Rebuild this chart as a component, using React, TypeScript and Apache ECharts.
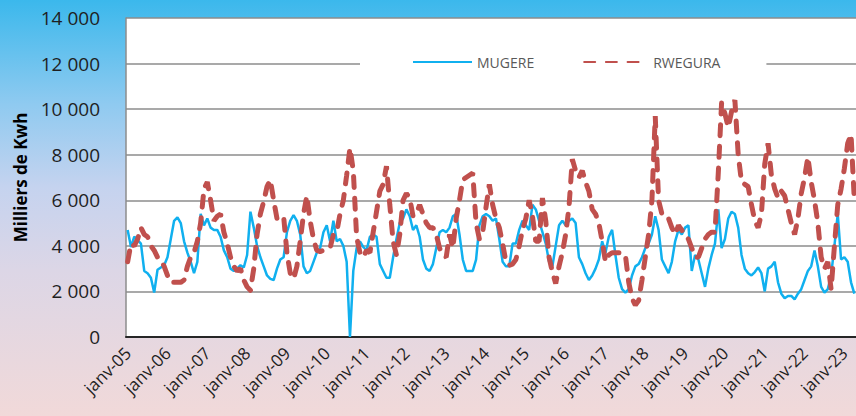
import React, { useEffect, useRef } from "react";
import * as echarts from "echarts";

const MONTHS = ["janv", "févr", "mars", "avr", "mai", "juin", "juil", "août", "sept", "oct", "nov", "déc"];
const START_YEAR = 5;

const MUGERE = [
  4700, 3950, 4400, 4250, 4100, 2900, 2800, 2600, 1950, 2950, 3050, 3150,
  3500, 4300, 5100, 5250, 5000, 4200, 3700, 3300, 2800, 3300, 5400, 4900,
  5200, 4800, 4700, 4700, 4400, 3800, 3500, 3000, 2900, 3000, 3150, 3050,
  3600, 5500, 4800, 4000, 3500, 3100, 2700, 2550, 2500, 3000, 3400, 3500,
  4600, 5100, 5350, 5100, 4500, 3100, 2800, 2900, 3300, 3700, 3900, 4600,
  4900, 4200, 5100, 4200, 4300, 4000, 3300, 0, 2900, 3900, 4200, 3950,
  3800, 4400, 4500, 4400, 3200, 2900, 2600, 2600, 3500, 4300, 5000, 5200,
  5600, 5300, 4700, 4900, 4400, 3400, 3000, 2900, 3200, 3900, 4600, 4700,
  4600, 4800, 5300, 5400, 4500, 3400, 2900, 2900, 2900, 3400, 4900, 5300,
  5400, 5300, 5100, 5200, 4300, 3300, 3100, 3100, 4100, 4100, 4700, 5100,
  4900, 4700, 5800, 5600, 5100, 4600, 4100, 3300, 3100, 4000, 4900, 5100,
  4900, 5100, 5200, 5000, 3500, 3200, 2800, 2500, 2700, 3000, 3400, 4200,
  3700, 4400, 4700, 3600, 2600, 2100, 1950, 2100, 2700, 3100, 3200, 3500,
  3900, 4100, 4500, 5300, 4700, 3400, 3100, 2800, 3300, 4200, 4700, 4500,
  4800, 4900, 2900, 3600, 3400, 2800, 2200, 3000, 3600, 4100, 5600, 3900,
  4300, 5200, 5500, 5400, 4800, 3600, 3000, 2800, 2700, 2850, 3050, 2800,
  2000, 3000, 3100, 3300, 2400, 1900, 1700, 1800, 1800, 1650, 1900, 2100,
  2500, 2900, 3100, 3800, 3100, 2200, 1950, 2100, 2700, 4000, 5400, 3400,
  3500, 3300, 2400, 1900,
];

const RWEGURA = [
  3300, 4100, 4000, 4300, 4800, 4500, 4400, 4000, 3800, 3500, 3400, 3100,
  2700, 2400, 2400, 2400, 2400, 2500, 3100, 3500, 3700, 4200, 5000, 6500,
  6800, 6000, 5100, 5300, 5400, 4600, 4100, 3500, 3100, 2900, 3000, 2500,
  2200, 2050, 3000, 4500, 5400, 5950, 6600, 6900, 6000, 5200, 5200, 5300,
  3700, 2800, 2550, 3100, 4200, 5400, 6200, 5100, 4300, 3800, 3750, 3800,
  3850, 3900, 4500, 4600, 5400, 6000, 7100, 8300, 7300, 4400, 3700, 3500,
  3800, 3700, 4600, 5500, 6400, 6700, 7500, 5800, 4200, 3600, 4500, 6000,
  6300, 6100, 5300, 5400, 5800, 5400, 5000, 4800, 4800, 4500, 3900, 3600,
  3500, 4500, 3900, 5200, 6000, 6900, 7000, 7100, 7200, 5000, 4300, 4600,
  5700, 6700, 5800, 5200, 4800, 4100, 3300, 3150, 3200, 3400, 4000, 4700,
  5200, 6000, 5300, 4200, 4200, 6100, 5100, 3500, 2850, 2350, 3100, 3700,
  4500, 5700, 7800, 7300, 7000, 7300, 6800, 6400, 5600, 5400, 5000, 4200,
  3300, 3600, 3700, 3700, 3700, 3700, 3600, 2400, 1700, 1400, 1600, 2500,
  3500, 4500, 6000, 9700, 6000, 5400, 5400, 5200, 4800, 4500, 4900, 4700,
  4400, 4300, 3900, 3500, 3500, 3900, 4300, 4500, 4600, 4600, 7200, 10300,
  9800, 9200, 9900, 10400, 8000, 6800, 6700, 6600, 5800, 5100, 4800, 5400,
  7600, 8500, 7100, 6500, 6100, 6400, 6200, 5600, 5000, 4500, 5200, 6300,
  7000, 7900, 6800, 6000, 5000, 3500, 3000, 3300, 2100, 4000, 5800, 6500,
  7400, 8500, 8900, 6000,
];

const CATEGORIES = MUGERE.map(
  (_, i) => `${MONTHS[i % 12]}-${String(START_YEAR + Math.floor(i / 12)).padStart(2, "0")}`
);

const Y_MIN = 0;
const Y_MAX = 14000;
const Y_STEP = 2000;

const FONT = "'Open Sans', 'Noto Sans', sans-serif";

function fmt(v: number): string {
  if (v < 1000) return String(v);
  const th = Math.floor(v / 1000);
  const rest = String(v % 1000).padStart(3, "0");
  return `${th} ${rest}`;
}

export default function App() {
  const ref = useRef<HTMLDivElement>(null);
  useEffect(() => {
    if (!ref.current) return;
    const chart = echarts.init(ref.current, undefined, { renderer: "svg" });
    chart.setOption({
      animation: false,
      backgroundColor: "transparent",
      grid: {
        left: 126,
        top: 18,
        width: 730,
        height: 319,
        show: true,
        backgroundColor: "#ffffff",
        borderWidth: 0,
        containLabel: false,
      },
      legend: {
        data: ["MUGERE", { name: "RWEGURA", textStyle: { padding: [0, 0, 0, 5] } }],
        left: 360,
        top: 52,
        padding: [3, 46, 3, 52],
        itemGap: 49,
        itemWidth: 59,
        itemHeight: 14,
        backgroundColor: "#ffffff",
        itemStyle: { opacity: 0 },
        textStyle: { fontFamily: FONT, fontSize: 14, color: "#595959" },
      },
      xAxis: {
        type: "category",
        data: CATEGORIES,
        boundaryGap: true,
        axisLine: { show: true, lineStyle: { color: "#262626", width: 2 } },
        axisTick: { show: false },
        axisLabel: {
          interval: 11,
          rotate: 45,
          margin: 13,
          fontFamily: FONT,
          fontSize: 17,
          color: "#1f1f1f",
        },
        splitLine: { show: false },
      },
      yAxis: {
        type: "value",
        min: Y_MIN,
        max: Y_MAX,
        interval: Y_STEP,
        name: "Milliers de Kwh",
        nameLocation: "middle",
        nameGap: 97,
        nameRotate: 90,
        nameTextStyle: { fontFamily: FONT, fontSize: 17, fontWeight: "bold", color: "#000000" },
        axisLine: { show: true, lineStyle: { color: "#8c8c8c", width: 1.5 } },
        axisTick: { show: false },
        axisLabel: {
          margin: 26,
          fontFamily: FONT,
          fontSize: 19,
          color: "#1f1f1f",
          formatter: (v: number) => fmt(v),
        },
        splitLine: { show: true, lineStyle: { color: "#8c8c8c", width: 1.5 } },
      },
      series: [
        {
          name: "MUGERE",
          type: "line",
          data: MUGERE,
          symbol: "none",
          showSymbol: false,
          lineStyle: { color: "#10b0ef", width: 2.5 },
          itemStyle: { color: "#10b0ef" },
          z: 2,
        },
        {
          name: "RWEGURA",
          type: "line",
          data: RWEGURA,
          symbol: "none",
          showSymbol: false,
          lineStyle: { color: "#c0504d", width: 5, type: [11, 10.7], cap: "round" },
          itemStyle: { color: "#c0504d" },
          z: 3,
        },
      ],
    });
    return () => chart.dispose();
  }, []);
  return (
    <div
      ref={ref}
      style={{
        position: "fixed",
        left: 0,
        top: 0,
        width: 856,
        height: 416,
        background:
          "linear-gradient(to bottom, #3bb8ec 0%, #8fcaf0 25%, #c5d3ef 45%, #dcd6e6 65%, #f1d9d9 100%)",
      }}
    />
  );
}
